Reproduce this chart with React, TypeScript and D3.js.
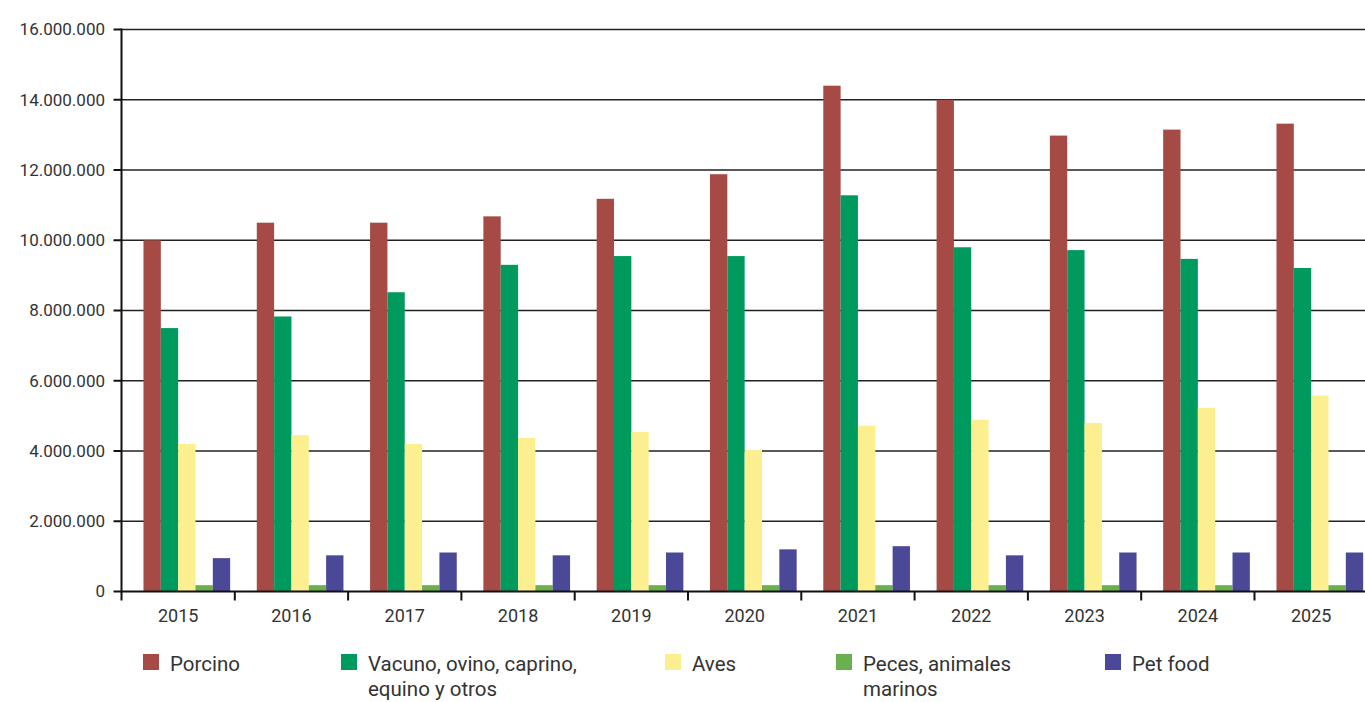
import React from "react";
import * as d3 from "d3";

const years = ["2015", "2016", "2017", "2018", "2019", "2020", "2021", "2022", "2023", "2024", "2025"];
const seriesNames = ["Porcino", "Vacuno, ovino, caprino, equino y otros", "Aves", "Peces, animales marinos", "Pet food"];
const porcino = [10.0, 10.5, 10.5, 10.68, 11.18, 11.88, 14.4, 14.0, 12.98, 13.15, 13.32].map(v => v * 1e6);
const vacuno = [7.5, 7.83, 8.52, 9.3, 9.55, 9.55, 11.28, 9.8, 9.72, 9.47, 9.21].map(v => v * 1e6);
const aves = [4.2, 4.45, 4.2, 4.37, 4.54, 4.03, 4.72, 4.89, 4.8, 5.23, 5.58].map(v => v * 1e6);
const peces = [0.18, 0.18, 0.18, 0.18, 0.18, 0.18, 0.18, 0.18, 0.18, 0.18, 0.18].map(v => v * 1e6);
const petFood = [0.95, 1.03, 1.11, 1.03, 1.11, 1.2, 1.29, 1.03, 1.11, 1.11, 1.11].map(v => v * 1e6);
const yTicks = [0, 2e6, 4e6, 6e6, 8e6, 10e6, 12e6, 14e6, 16e6];

const colors = ["#a54a44", "#009a5e", "#fbef8f", "#6ab04c", "#4b4898"];
const legendLines = [["Porcino"], ["Vacuno, ovino, caprino,", "equino y otros"], ["Aves"], ["Peces, animales", "marinos"], ["Pet food"]];
const legendX = [143, 341, 665, 836, 1105];

const W = 1365, H = 702;
const FONT = "Roboto, 'DejaVu Sans', sans-serif";

export default function App() {
  const allSeries = [porcino, vacuno, aves, peces, petFood];
  const left = 121.5, top = 29.5, bottom = 591.5;
  const x = d3.scaleBand<string>().domain(years).range([left, left + 11 * 113.3]).padding(0);
  const bw = x.bandwidth();
  const xs = d3.scaleBand<string>().domain(["_blank", ...seriesNames]).range([bw * 0.041, bw * 0.959]).padding(0);
  const y = d3.scaleLinear().domain([0, 16e6]).range([bottom, top]);
  const fmt = (v: number) => d3.format(",")(v).replace(/,/g, ".");

  return (
    <svg width={W} height={H} style={{ position: "absolute", left: 0, top: 0, background: "#fff" }}>
      <rect x={0} y={0} width={W} height={H} fill="#fff" />
      {yTicks.map(t => (
        <g key={t}>
          {t > 0 && <line x1={left} x2={W} y1={y(t)} y2={y(t)} stroke="#222" strokeWidth={1.5} />}
          <line x1={left - 8} x2={left} y1={y(t)} y2={y(t)} stroke="#111" strokeWidth={2} />
          <text x={105} y={y(t)} dy="0.35em" textAnchor="end" fontFamily={FONT} fontSize={17} fill="#333">{fmt(t)}</text>
        </g>
      ))}
      {years.map((yr, i) => (
        <g key={yr} transform={`translate(${x(yr)},0)`}>
          {allSeries.map((s, j) => (
            <rect key={j} x={xs(seriesNames[j])} y={y(s[i])} width={xs.bandwidth()} height={y(0) - y(s[i])} fill={colors[j]} />
          ))}
        </g>
      ))}
      <line x1={left} x2={left} y1={top - 1} y2={bottom + 1} stroke="#111" strokeWidth={2} />
      <line x1={left} x2={W} y1={bottom} y2={bottom} stroke="#111" strokeWidth={2} />
      {years.map(yr => (
        <line key={"t" + yr} x1={(x(yr) as number)} x2={(x(yr) as number)} y1={bottom} y2={bottom + 9} stroke="#111" strokeWidth={2} />
      ))}
      {years.map(yr => (
        <text key={"l" + yr} x={(x(yr) as number) + bw / 2} y={622} textAnchor="middle" fontFamily={FONT} fontSize={18} fill="#333">{yr}</text>
      ))}
      {legendLines.map((lines, i) => (
        <g key={"lg" + i}>
          <rect x={legendX[i]} y={654} width={16} height={16} fill={colors[i]} />
          {lines.map((ln, k) => (
            <text key={k} x={legendX[i] + 27} y={671 + k * 25} fontFamily={FONT} fontSize={20.5} fill="#333">{ln}</text>
          ))}
        </g>
      ))}
    </svg>
  );
}
